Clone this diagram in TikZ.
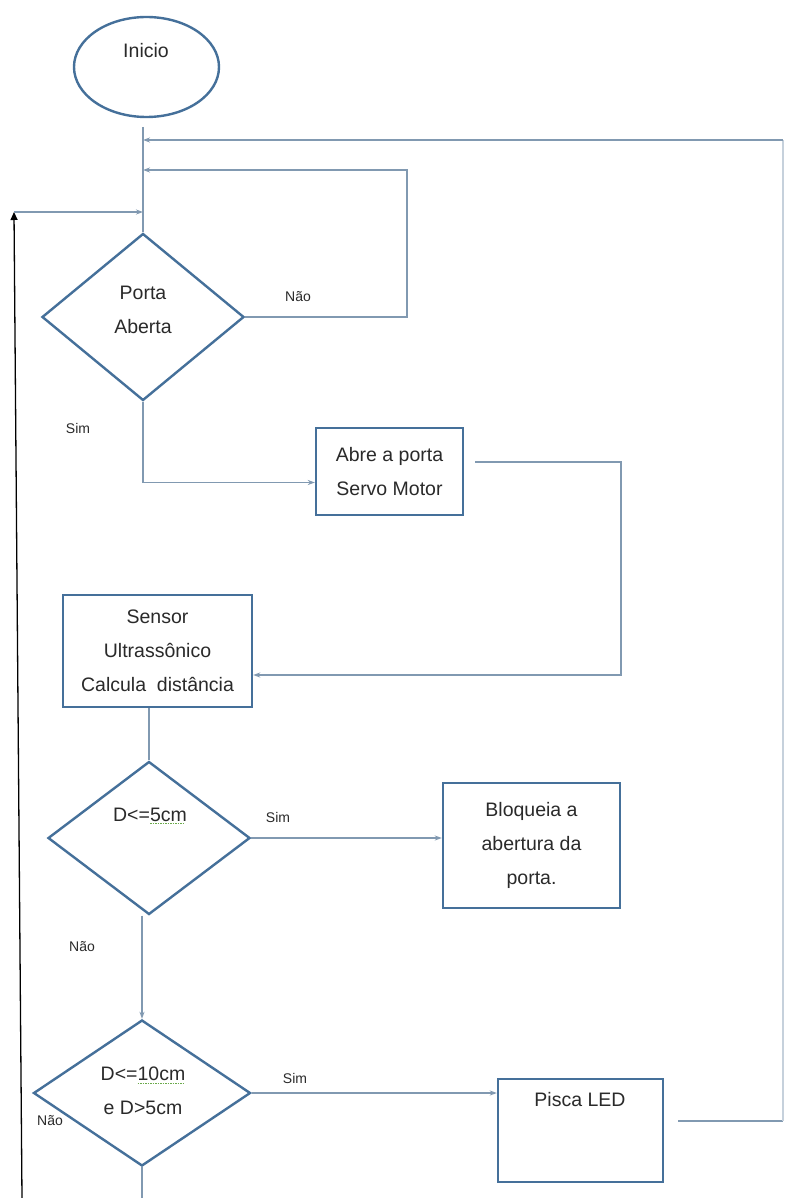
\documentclass[tikz,border=0pt]{standalone}
\usepackage{fontspec}
\setmainfont{Liberation Sans}
\usetikzlibrary{shapes.geometric,arrows.meta,calc}
\definecolor{shp}{HTML}{45709A}
\definecolor{cn}{HTML}{8199B1}
\definecolor{tx}{HTML}{2A2A2A}
\definecolor{sp}{HTML}{6AAA4A}
\newcommand\spellmark[1]{\setbox0\hbox{#1}\rlap{\textcolor{sp}{\raisebox{-3pt}{\leaders\hbox{\rule{1.5pt}{0.8pt}\hspace{1pt}}\hskip\wd0}}}\box0}
\begin{document}
\begin{tikzpicture}[x=1pt,y=-1pt,
  shapebox/.style={draw=shp, line width=2.4pt, fill=white, text=tx, align=center, inner sep=0pt,
    font=\fontsize{19.5}{34}\selectfont},
  dia/.style={shapebox, diamond},
  txt/.style={text=tx, align=center, inner sep=0pt, font=\fontsize{19.5}{34}\selectfont},
  conn/.style={draw=cn, line width=1.3pt},
  arr/.style={-{Stealth[length=7pt,width=5pt]}},
  lab/.style={text=tx, inner sep=0pt, font=\fontsize{14}{16}\selectfont}
]
\useasboundingbox[fill=white] (0,0) rectangle (786,1198);

% shapes
\node[shapebox, ellipse, minimum width=145, minimum height=100] (inicio) at (146.5,67) {};
\node[txt] (inicioT) at (146,51) {Inicio};

\node[dia, minimum width=202, minimum height=167] (d1) at (143,317) {};
\node[txt] (d1T) at (143,310) {Porta\\Aberta};

\node[shapebox, minimum width=147, minimum height=87] (abre) at (389.5,471.5) {Abre a porta\\Servo Motor};

\node[shapebox, minimum width=189, minimum height=112] (sensor) at (157.5,651) {Sensor\\Ultrassônico\\Calcula\ \ distância};

\node[dia, minimum width=202, minimum height=153] (d2) at (149,838) {};
\node[txt] (d2T) at (150,816) {D<=\spellmark{5cm}};

\node[shapebox, minimum width=177, minimum height=125] (bloq) at (531.5,845.5) {Bloqueia a\\abertura da\\porta.};

\node[dia, minimum width=217, minimum height=146] (d3) at (142,1093) {};
\node[txt] (d3T) at (143,1091) {D<=\spellmark{10cm}\\e D>5cm};

\node[shapebox, minimum width=165, minimum height=103] (pisca) at (580.5,1130.5) {};
\node[txt] (piscaT) at (580,1100) {Pisca LED};

% labels
\node[lab] (l1) at (298,297) {Não};
\node[lab] (l2) at (78,428) {Sim};
\node[lab] (l3) at (278,817) {Sim};
\node[lab] (l4) at (82,947) {Não};
\node[lab] (l5) at (295,1078) {Sim};
\node[lab] (l6) at (50,1121) {Não};

% helper coordinates
\coordinate (s0) at (143,127);
\coordinate (j1) at (143,140);
\coordinate (j2) at (143,170);
\coordinate (j3) at (143,212);
\coordinate (rtop) at (783,140);
\coordinate (rbot) at (783,1121);
\coordinate (pout) at (678,1121);
\coordinate (n1) at (407,170);
\coordinate (lt) at (14,212);
\coordinate (lb) at (22,1198);
\coordinate (a1) at (475,462);
\coordinate (a2) at (621,462);
\coordinate (b3) at (142,1198);

% connectors
\draw[conn] (s0) -- (d1.north);
\draw[conn] (pout) -- (rbot);
\draw[draw=cn!45, line width=1.3pt] (rbot) -- (rtop);
\draw[conn,arr] (rtop) -- (j1);
\draw[conn,arr] (d1.east) -| (n1) -- (j2);
\draw[black, line width=1.3pt, -{Triangle[length=8pt,width=7pt]}] (lb) -- (lt);
\draw[conn,arr] (lt) -- (j3);
\draw[conn,arr] (d1.south) |- ($(abre.west)+(0,11)$);
\draw[conn,arr] (a1) -- (a2) |- ($(sensor.east)+(0,24)$);
\draw[conn] (d2.north |- sensor.south) -- (d2.north);
\draw[conn,arr] (d2.east) -- (d2.east -| bloq.west);
\draw[conn,arr] (d3.north |- d2.south) -- (d3.north);
\draw[conn,arr] (d3.east) -- (d3.east -| pisca.west);
\draw[conn] (d3.south) -- (b3);
\end{tikzpicture}
\end{document}
